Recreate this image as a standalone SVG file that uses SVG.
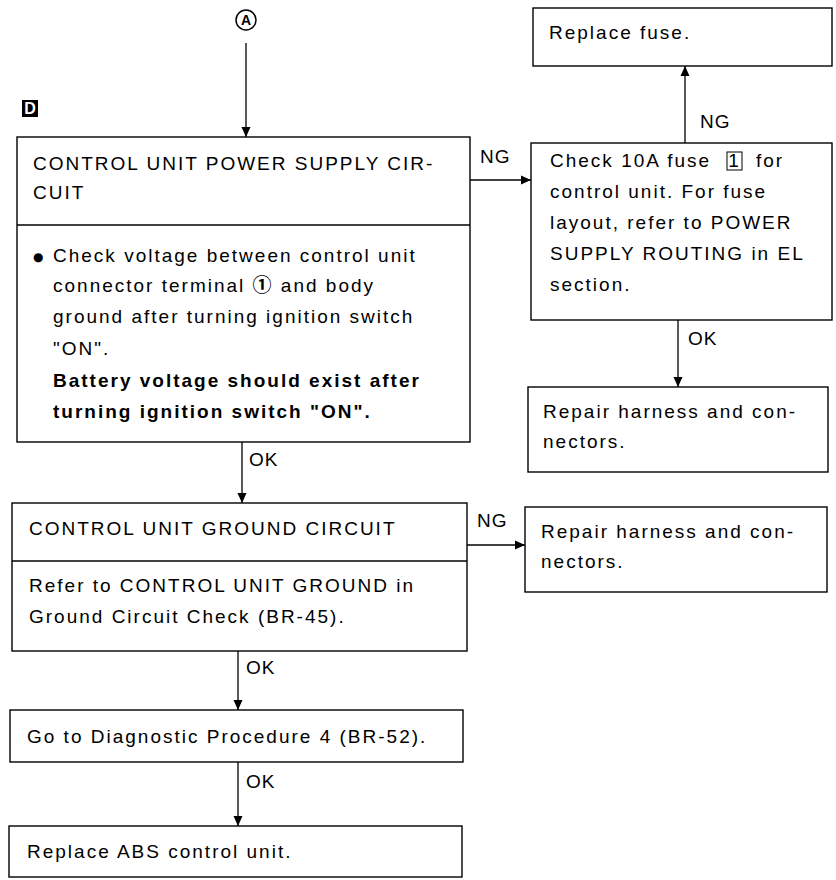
<svg xmlns="http://www.w3.org/2000/svg" width="836" height="880" viewBox="0 0 836 880">
<style>
.box{fill:#fff;stroke:#000;stroke-width:1.4}
.ln{stroke:#000;stroke-width:1.3;fill:none}
.t{font-family:"Liberation Sans",Arial,"Noto Sans CJK JP",sans-serif;font-size:19px;letter-spacing:2px;fill:#000}
.b{font-weight:bold}
.lbl{font-family:"Liberation Sans",Arial,sans-serif;font-size:19px;letter-spacing:1px;fill:#000}
</style>
<defs>
<marker id="ah" markerUnits="userSpaceOnUse" markerWidth="10" markerHeight="10" refX="10" refY="5" orient="auto">
<path d="M0,0.5 L10,5 L0,9.5 z" fill="#000"/>
</marker>
</defs>
<rect width="836" height="880" fill="#fff"/>

<g id="connectors">
<line class="ln" x1="246" y1="43" x2="246" y2="137" marker-end="url(#ah)"/>
<line class="ln" x1="470" y1="180" x2="531" y2="180" marker-end="url(#ah)"/>
<text class="lbl" x="480" y="163">NG</text>
<line class="ln" x1="685" y1="143" x2="685" y2="66" marker-end="url(#ah)"/>
<text class="lbl" x="700" y="128">NG</text>
<line class="ln" x1="678" y1="320" x2="678" y2="387" marker-end="url(#ah)"/>
<text class="lbl" x="688" y="345">OK</text>
<line class="ln" x1="242" y1="442" x2="242" y2="503" marker-end="url(#ah)"/>
<text class="lbl" x="249" y="466">OK</text>
<line class="ln" x1="467" y1="545" x2="525" y2="545" marker-end="url(#ah)"/>
<text class="lbl" x="477" y="527">NG</text>
<line class="ln" x1="238" y1="651" x2="238" y2="710" marker-end="url(#ah)"/>
<text class="lbl" x="246" y="674">OK</text>
<line class="ln" x1="238" y1="762" x2="238" y2="826" marker-end="url(#ah)"/>
<text class="lbl" x="246" y="788">OK</text>
</g>

<g id="start-a">
<circle cx="246" cy="20" r="10" fill="none" stroke="#000" stroke-width="1.5"/>
<text x="246" y="25" text-anchor="middle" font-family="Liberation Sans,Arial,sans-serif" font-size="14" font-weight="bold">A</text>
</g>

<g id="label-d">
<rect x="22" y="100" width="16" height="17" fill="#000"/>
<text x="30" y="114" text-anchor="middle" font-family="Liberation Sans,Arial,sans-serif" font-size="16" font-weight="bold" fill="#fff">D</text>
</g>

<g id="power-supply">
<rect class="box" x="17" y="137" width="453" height="305"/>
<line class="ln" x1="17" y1="225" x2="470" y2="225"/>
<text class="t" x="33" y="170">CONTROL UNIT POWER SUPPLY CIR-</text>
<text class="t" x="33" y="199">CUIT</text>
<text x="33" y="261" font-family="DejaVu Sans,sans-serif" font-size="12">●</text>
<text class="t" x="53" y="262">Check voltage between control unit</text>
<text class="t" x="53" y="292">connector terminal <tspan font-weight="bold">①</tspan> and body</text>
<text class="t" x="53" y="323">ground after turning ignition switch</text>
<text class="t" x="53" y="355">"ON".</text>
<text class="t b" x="53" y="387">Battery voltage should exist after</text>
<text class="t b" x="53" y="418">turning ignition switch "ON".</text>
</g>

<g id="check-fuse">
<rect class="box" x="531" y="143" width="301" height="177"/>
<text class="t" x="550" y="167">Check 10A fuse</text>
<rect x="727" y="152" width="15" height="18" fill="none" stroke="#000" stroke-width="1"/>
<text class="t" x="734.5" y="167" text-anchor="middle" letter-spacing="0">1</text>
<text class="t" x="756" y="167">for</text>
<text class="t" x="550" y="198">control unit. For fuse</text>
<text class="t" x="550" y="229">layout, refer to POWER</text>
<text class="t" x="550" y="260">SUPPLY ROUTING in EL</text>
<text class="t" x="550" y="291">section.</text>
</g>

<g id="replace-fuse">
<rect class="box" x="533" y="8" width="299" height="58"/>
<text class="t" x="549" y="39">Replace fuse.</text>
</g>

<g id="repair-1">
<rect class="box" x="528" y="387" width="300" height="85"/>
<text class="t" x="543" y="418">Repair harness and con-</text>
<text class="t" x="543" y="448">nectors.</text>
</g>

<g id="ground-circuit">
<rect class="box" x="12" y="503" width="455" height="148"/>
<line class="ln" x1="12" y1="561" x2="467" y2="561"/>
<text class="t" x="29" y="535">CONTROL UNIT GROUND CIRCUIT</text>
<text class="t" x="29" y="592">Refer to CONTROL UNIT GROUND in</text>
<text class="t" x="29" y="623">Ground Circuit Check (BR-45).</text>
</g>

<g id="repair-2">
<rect class="box" x="525" y="507" width="302" height="85"/>
<text class="t" x="541" y="538">Repair harness and con-</text>
<text class="t" x="541" y="568">nectors.</text>
</g>

<g id="diag-4">
<rect class="box" x="10" y="710" width="453" height="52"/>
<text class="t" x="27" y="743">Go to Diagnostic Procedure 4 (BR-52).</text>
</g>

<g id="replace-abs">
<rect class="box" x="9" y="826" width="453" height="51"/>
<text class="t" x="27" y="858">Replace ABS control unit.</text>
</g>
</svg>
